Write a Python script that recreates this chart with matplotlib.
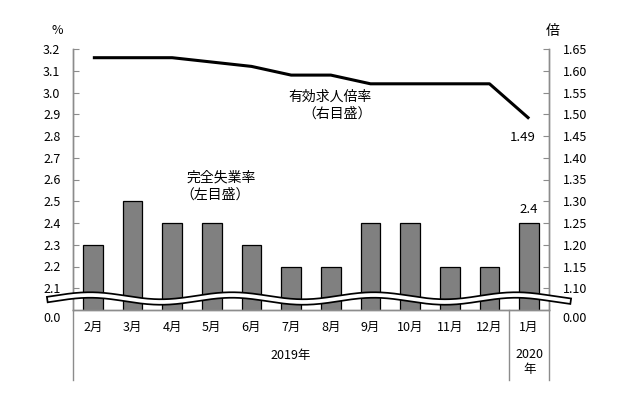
import numpy as np
import matplotlib.pyplot as plt
from matplotlib.lines import Line2D
from matplotlib.transforms import blended_transform_factory

plt.rcParams['font.family'] = ['Noto Sans CJK JP', 'DejaVu Sans']

# data
months = ['2月', '3月', '4月', '5月', '6月', '7月', '8月', '9月',
          '10月', '11月', '12月', '1月']
unemployment = [2.3, 2.5, 2.4, 2.4, 2.3, 2.2, 2.2, 2.4, 2.4, 2.2, 2.2, 2.4]
job_ratio = [1.63, 1.63, 1.63, 1.62, 1.61, 1.59, 1.59, 1.57, 1.57, 1.57, 1.57, 1.49]
left_ticks = [2.1, 2.2, 2.3, 2.4, 2.5, 2.6, 2.7, 2.8, 2.9, 3.0, 3.1, 3.2]
right_ticks = [1.10, 1.15, 1.20, 1.25, 1.30, 1.35, 1.40, 1.45, 1.50, 1.55, 1.60, 1.65]
years = ['2019年', '2020\n年']
year_spans = [(0, 10), (11, 11)]

W, H = 626, 395
axis_gray = '#8c8c8c'

fig = plt.figure(figsize=(W / 100, H / 100), dpi=100)
ax = fig.add_axes([73 / W, 1 - 310 / H, (549 - 73) / W, (310 - 49) / H])
ax2 = ax.twinx()

x = np.arange(len(months))

# bars (left scale)
ax.bar(x, unemployment, width=0.5, color='#808080', edgecolor='black', linewidth=0.9, zorder=2)
ax.set_xlim(-0.5, len(months) - 0.5)
ax.set_ylim(2.0, 3.2)
ax.set_yticks(left_ticks)
ax.set_yticklabels([f'{v:.1f}' for v in left_ticks])
ax.set_xticks(x)
ax.set_xticklabels(months)
ax.tick_params(axis='y', direction='in', length=4, color=axis_gray, pad=9, labelsize=9)
ax.tick_params(axis='x', length=0, pad=8, labelsize=9)

# line (right scale)
ax2.plot(x, job_ratio, color='black', linewidth=2.2, solid_capstyle='butt', zorder=3)
ax2.set_ylim(1.05, 1.65)
ax2.set_yticks(right_ticks)
ax2.set_yticklabels([f'{v:.2f}' for v in right_ticks])
ax2.tick_params(axis='y', direction='in', length=4, color=axis_gray, pad=10, labelsize=9)

for a in (ax, ax2):
    a.spines['top'].set_visible(False)
    for s in ('left', 'right', 'bottom'):
        a.spines[s].set_color(axis_gray)
        a.spines[s].set_linewidth(1)

# annotations
ax.annotate(f'{unemployment[-1]:.1f}', (x[-1], unemployment[-1]), xytext=(0, 5),
            textcoords='offset points', ha='center', va='bottom', fontsize=9.5)
ax2.annotate(f'{job_ratio[-1]:.2f}', (x[-1], job_ratio[-1]), xytext=(-5, -9),
             textcoords='offset points', ha='center', va='top', fontsize=9.5)

ax.text(372 / W, 1 - 97 / H, '有効求人倍率', transform=fig.transFigure,
        ha='right', va='center', fontsize=10)
ax.text(372 / W, 1 - 114 / H, '（右目盛）', transform=fig.transFigure,
        ha='right', va='center', fontsize=10)
ax.text(187 / W, 1 - 178 / H, '完全失業率', transform=fig.transFigure,
        ha='left', va='center', fontsize=10)
ax.text(180 / W, 1 - 195 / H, '（左目盛）', transform=fig.transFigure,
        ha='left', va='center', fontsize=10)

# unit labels and zero labels
fig.text(57 / W, 1 - 31 / H, '%', ha='center', va='center', fontsize=9)
fig.text(553 / W, 1 - 31 / H, '倍', ha='center', va='center', fontsize=10)
fig.text(61 / W, 1 - 318 / H, '0.0', ha='right', va='center', fontsize=9)
fig.text(562 / W, 1 - 318 / H, '0.00', ha='left', va='center', fontsize=9)

# year grouping below the axis
trans = blended_transform_factory(ax.transData, ax.transAxes)
sep_bottom = -(380 - 310) / (310 - 49)
for pos in (-0.5, 10.5, 11.5):
    ax.plot([pos, pos], [0, sep_bottom], transform=trans, color=axis_gray,
            linewidth=1, clip_on=False)
for label, (a, b) in zip(years, year_spans):
    ypos = -(362 - 310) / (310 - 49) if '\n' in label else -(355 - 310) / (310 - 49)
    ax.text((a + b) / 2, ypos, label, transform=trans, ha='center', va='center',
            fontsize=9, linespacing=1.3)

# wavy axis break
px = np.linspace(50, 568, 400)
py = 298.5 - 3.5 * np.cos(2 * np.pi * (px - 90) / 142)
fx, fy = px / W, 1 - py / H
fig.add_artist(Line2D(fx, fy, transform=fig.transFigure, color='black', linewidth=5.2, zorder=10))
fig.add_artist(Line2D(fx, fy, transform=fig.transFigure, color='white', linewidth=2.7, zorder=11))

fig.savefig('out.png', dpi=100)
